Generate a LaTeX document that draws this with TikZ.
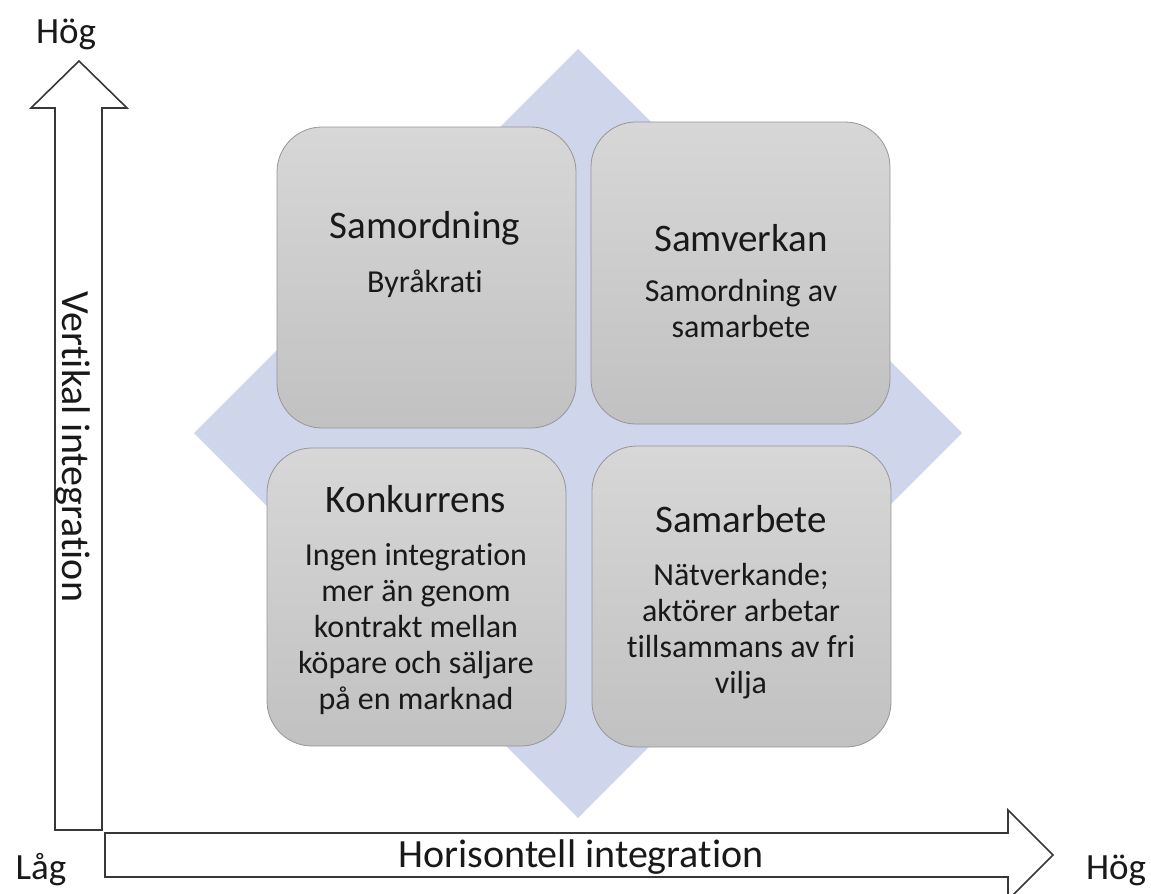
\documentclass[tikz,border=0pt]{standalone}
\usepackage{fontspec}
\setmainfont{Carlito}[Ligatures=NoCommon]
\definecolor{diamondblue}{RGB}{207,213,234}
\definecolor{quadtop}{RGB}{215,215,215}
\definecolor{quadbottom}{RGB}{193,193,193}
\definecolor{quadedge}{RGB}{150,150,150}
\definecolor{arrowedge}{RGB}{55,55,55}
\newcommand\titlefont{\fontsize{39}{44}\selectfont}
\newcommand\bodyfont{\fontsize{32}{36}\selectfont}
\begin{document}
\begin{tikzpicture}[x=1pt,y=-1pt,
  quad/.style={draw=quadedge, line width=0.8pt, rounded corners=45pt,
    top color=quadtop, bottom color=quadbottom, inner sep=0pt,
    minimum width=299pt},
  quadtext/.style={anchor=base, inner sep=0pt, font=\bodyfont, text=black!90},
  blockarrow/.style={draw=arrowedge, line width=1.6pt, fill=white, line join=miter},
  axistext/.style={anchor=base, inner sep=0pt, font=\fontsize{40}{44}\selectfont, text=black!90},
  endlabel/.style={anchor=base, inner sep=0pt, font=\fontsize{37}{42}\selectfont, text=black!90}]
\clip (0,0) rectangle (1151,894);
\useasboundingbox (0,0) rectangle (1151,894);

% background diamond
\fill[diamondblue] (578,49) -- (962,433) -- (578,818) -- (194,433) -- cycle;

% four quadrants
\node[quad, minimum height=301pt] (tl) at (426.5,277.5) {};
\node[quad, minimum height=302pt] (tr) at (740.5,273) {};
\node[quad, minimum height=298pt] (bl) at (416.5,597) {};
\node[quad, minimum height=301pt] (br) at (741.5,596.5) {};

\node[quadtext] (tl-text) at (425,238)
  {\begin{tabular}[t]{@{}c@{}}{\titlefont Samordning}\\[18pt]Byråkrati\end{tabular}};
\node[quadtext] (tr-text) at (741,251)
  {\begin{tabular}[t]{@{}c@{}}{\titlefont Samverkan}\\[14pt]Samordning av\\samarbete\end{tabular}};
\node[quadtext] (bl-text) at (416,512)
  {\begin{tabular}[t]{@{}c@{}}{\titlefont Konkurrens}\\[17pt]Ingen integration\\mer än genom\\kontrakt mellan\\köpare och säljare\\på en marknad\end{tabular}};
\node[quadtext] (br-text) at (741,532)
  {\begin{tabular}[t]{@{}c@{}}{\titlefont Samarbete}\\[17pt]Nätverkande;\\aktörer arbetar\\tillsammans av fri\\vilja\end{tabular}};

% vertical axis arrow
\draw[blockarrow] (55,830) -- (55,108) -- (31,108) -- (79,61) -- (127,108)
  -- (102,108) -- (102,830) -- cycle;
% horizontal axis arrow
\draw[blockarrow] (105,833) -- (1008,833) -- (1008,810) -- (1053,855)
  -- (1008,900) -- (1008,877) -- (105,877) -- cycle;

\node[axistext, rotate=-90] (vaxis) at (62,447) {Vertikal integration};
\node[axistext] (haxis) at (581,867) {Horisontell integration};

\node[endlabel] (vhigh) at (66,43) {Hög};
\node[endlabel] (low) at (41,879) {Låg};
\node[endlabel] (hhigh) at (1116,879) {Hög};
\end{tikzpicture}
\end{document}
